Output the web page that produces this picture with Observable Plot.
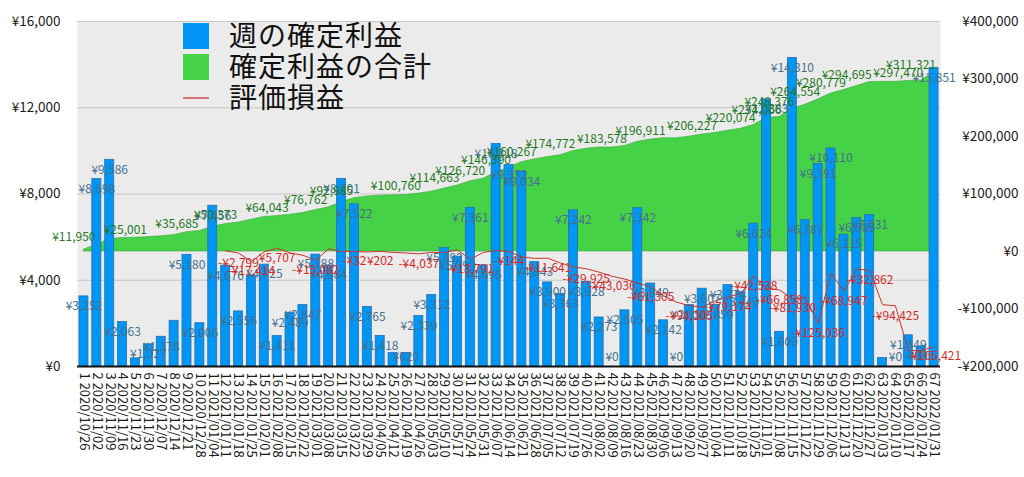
<!DOCTYPE html>
<html><head><meta charset="utf-8">
<script src="https://cdn.jsdelivr.net/npm/d3@7"></script>
<script src="https://cdn.jsdelivr.net/npm/@observablehq/plot@0.6"></script>
<style>
html,body{margin:0;padding:0;background:#fff;}
#chart{position:relative;width:1024px;height:477px;}
</style></head><body><div id="chart"></div>
<script>
const weekDates = ["2020/10/26","2020/11/02","2020/11/09","2020/11/16","2020/11/23","2020/11/30","2020/12/07","2020/12/14","2020/12/21","2020/12/28",
"2021/01/04","2021/01/11","2021/01/18","2021/01/25","2021/02/01","2021/02/08","2021/02/15","2021/02/22","2021/03/01","2021/03/08",
"2021/03/15","2021/03/22","2021/03/29","2021/04/05","2021/04/12","2021/04/19","2021/04/26","2021/05/03","2021/05/10","2021/05/17",
"2021/05/24","2021/05/31","2021/06/07","2021/06/14","2021/06/21","2021/06/28","2021/07/05","2021/07/12","2021/07/19","2021/07/26",
"2021/08/02","2021/08/09","2021/08/16","2021/08/23","2021/08/30","2021/09/06","2021/09/13","2021/09/20","2021/09/27","2021/10/04",
"2021/10/11","2021/10/18","2021/10/25","2021/11/01","2021/11/08","2021/11/15","2021/11/22","2021/11/29","2021/12/06","2021/12/13",
"2021/12/20","2021/12/27","2022/01/03","2022/01/10","2022/01/17","2022/01/24","2022/01/31"];

const weeklyProfit = [3252,8698,9586,2063,375,1027,1378,2120,5180,2006,
7456,4676,2556,4214,4725,1411,2489,2847,5188,4684,
8701,7522,2765,1418,633,620,2339,3312,5492,5099,
7361,4696,10318,9352,9034,4843,3900,3363,7242,3928,
2273,0,2605,7342,3849,2142,0,2850,3607,2859,
3774,3449,6624,12383,1609,14310,6787,9391,10110,6115,
6885,7031,391,0,1449,935,13851];

const cumulativeProfit = [3252,11950,21536,23599,23974,25001,26379,28499,33679,35685,
43141,47817,50373,55400,60130,61554,64043,66890,72078,76762,
85463,92985,95750,97168,97801,98421,100760,104072,109564,114663,
122024,126720,137038,146390,155424,160267,164167,167530,174772,178700,
180973,180973,183578,190920,194769,196911,196911,199761,203368,206227,
210001,213450,220074,232457,234066,248376,255163,264554,274664,280779,
287664,294695,295086,295086,296535,297470,311321];

const valuation = [null,null,null,null,null,null,null,null,null,null,
null,1200,-2799,-17414,-500,5707,-2500,-6500,-15082,4700,
-300,-32,-800,202,-1500,-2500,-4037,-1500,-2000,3000,
-13791,-1500,1500,-144,-9500,-12000,-11641,-20000,-27000,-29925,
-36000,-43036,-48000,-55000,-61305,-77000,-88000,-94205,-97000,-86000,
-79174,-73000,-42538,-64000,-66858,-81930,-80000,-125036,-38000,-68947,
-30500,-32862,-92500,-94425,-172000,-172500,-165421];

// weeks whose bar label is not shown in the reference
const barNoLabelWeeks = [5,8,14,25,63];
const cumLabelWeeks = [2,6,10,13,17,20,22,27,30,32,34,36,39,43,46,50,53,55,56,58,60,62,66,67];
const valLabelWeeks = [13,14,16,19,22,24,27,31,34,37,40,42,45,48,51,53,55,56,58,60,62,64,67];

const leftTicks = [0,4000,8000,12000,16000];
const rightTicks = [-200000,-100000,0,100000,200000,300000,400000];

const legendItems = ["週の確定利益","確定利益の合計","評価損益"];

const fmt = d3.format(",");
const yen = v => (v < 0 ? "-" : "") + "¥" + fmt(Math.abs(v));
// right-axis value -> left-axis units (-200,000..400,000 maps onto 0..16,000)
const toL = v => (v + 200000) / 37.5;
const fromL = v => v * 37.5 - 200000;

const labels = weekDates.map((d, i) => `${i + 1} ${d}`);
const rows = labels.map((lab, i) => ({label: lab, week: i + 1, weekly: weeklyProfit[i], cum: cumulativeProfit[i], val: valuation[i]}));
const valRows = rows.filter(d => d.val !== null);
const barLab = rows.filter(d => !barNoLabelWeeks.includes(d.week));
const cumLab = rows.filter(d => cumLabelWeeks.includes(d.week));
const valLab = rows.filter(d => valLabelWeeks.includes(d.week));

const font = "'Noto Sans CJK JP', 'Noto Sans', sans-serif";

const chart = Plot.plot({
  width: 1024, height: 477,
  marginLeft: 77, marginRight: 84, marginTop: 21, marginBottom: 111,
  style: {fontFamily: font, fontSize: "13px", background: "#fff", color: "#1a1a1a"},
  x: {type: "band", domain: labels, paddingInner: 0.3, paddingOuter: 0.15, label: null},
  y: {domain: [0, 16000], label: null},
  marks: [
    Plot.frame({fill: "#ebebeb", stroke: null}),
    Plot.ruleY(leftTicks.slice(1), {stroke: "#c6c6c6", strokeWidth: 1}),
    Plot.areaY(rows, {x: "label", y1: toL(0), y2: d => toL(d.cum), fill: "#46d246", stroke: "#3aa83a", strokeWidth: 0.6}),
    Plot.barY(rows, {x: "label", y: "weekly", fill: "#0096f5", stroke: "#2a6fb0", strokeWidth: 0.8}),
    Plot.line(valRows, {x: "label", y: d => toL(d.val), stroke: "#c8352d", strokeWidth: 1}),
    Plot.ruleY([0], {stroke: "#111", strokeWidth: 2}),
    Plot.axisY(leftTicks, {anchor: "left", tickSize: 0, tickPadding: 17, tickFormat: yen, fontSize: 13.5}),
    Plot.axisY(rightTicks.map(toL), {anchor: "right", tickSize: 0, tickPadding: 0, textAnchor: "end", dx: 78, tickFormat: d => yen(Math.round(fromL(d))), fontSize: 13.5}),
    Plot.axisX({tickRotate: 90, tickSize: 0, tickPadding: 6, fontSize: 13}),
    Plot.text(barLab, {x: "label", y: d => Math.max(d.weekly, 880), text: d => yen(d.weekly), dy: 10, fill: "#45708f", fontSize: 12}),
    Plot.text(cumLab, {x: "label", y: d => toL(d.cum), text: d => yen(d.cum), dy: -7, dx: -23, fill: "#1f7a1f", fontSize: 12}),
    Plot.text(valLab, {x: "label", y: d => toL(d.val), text: d => yen(d.val), dy: 10, fill: "#d42a2a", fontSize: 12})
  ]
});

const svg = d3.select(chart);
const lg = svg.append("g").attr("font-family", font).attr("text-anchor", "start");
const swatch = [
  {type: "rect", fill: "#0096f5"},
  {type: "rect", fill: "#46d246"},
  {type: "line", stroke: "#d05050"}
];
legendItems.forEach((t, i) => {
  const y0 = 23 + i * 31;
  if (swatch[i].type === "rect") {
    lg.append("rect").attr("x", 183).attr("y", y0).attr("width", 26).attr("height", 26).attr("fill", swatch[i].fill);
  } else {
    lg.append("line").attr("x1", 183).attr("x2", 209).attr("y1", y0 + 13).attr("y2", y0 + 13).attr("stroke", swatch[i].stroke).attr("stroke-width", 1.5);
  }
  lg.append("text").attr("x", 229).attr("y", y0 + 23).attr("text-anchor", "start").attr("font-size", 28).attr("letter-spacing", 1).attr("fill", "#111").text(t);
});

document.getElementById("chart").appendChild(chart);
</script></body></html>
